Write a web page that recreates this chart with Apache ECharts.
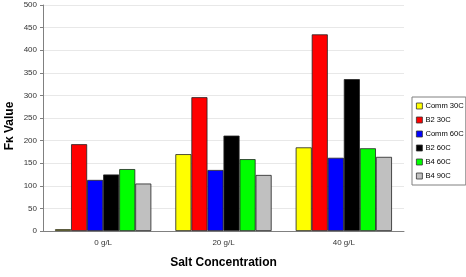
<!DOCTYPE html>
<html>
<head>
<meta charset="utf-8">
<script src="https://cdn.jsdelivr.net/npm/echarts@6/dist/echarts.min.js"></script>
<style>
  html, body { margin: 0; padding: 0; background: #fff; }
  #chart { width: 466px; height: 277px; }
</style>
</head>
<body>
<div id="chart"></div>
<script>
const categories = ['0 g/L', '20 g/L', '40 g/L']
const seriesNames = ['Comm 30C', 'B2 30C', 'Comm 60C', 'B2 60C', 'B4 60C', 'B4 90C']
const comm30 = [4, 170, 185]
const b2_30 = [192, 296, 435]
const comm60 = [113, 135, 162]
const b2_60 = [125, 211, 336]
const b4_60 = [137, 159, 183]
const b4_90 = [105, 124, 164]
const yTicks = [0, 500, 50]

const values = [comm30, b2_30, comm60, b2_60, b4_60, b4_90]
const colors = ['#FFFF00', '#FF0000', '#0000FF', '#000000', '#00FF00', '#C0C0C0']

const myChart = echarts.init(document.getElementById('chart'))

const option = {
  animation: false,
  color: colors,
  textStyle: { fontFamily: 'Liberation Sans, Arial, sans-serif' },
  grid: {
    left: 43,
    right: 62,
    top: 5,
    bottom: 46,
    outerBoundsMode: 'none'
  },
  legend: {
    orient: 'vertical',
    left: 412,
    top: 97,
    data: seriesNames,
    borderColor: '#808080',
    borderWidth: 1,
    padding: [4, 2, 4, 4],
    itemWidth: 6,
    itemHeight: 6,
    itemGap: 4,
    icon: 'rect',
    textStyle: {
      fontSize: 7.6,
      color: '#000',
      lineHeight: 10,
      padding: [0, 0, 0, -2]
    },
    itemStyle: {
      borderColor: '#333',
      borderWidth: 0.8
    }
  },
  xAxis: {
    type: 'category',
    data: categories,
    name: 'Salt Concentration',
    nameLocation: 'middle',
    nameGap: 26,
    nameTextStyle: { fontSize: 12, fontWeight: 'bold', color: '#000' },
    axisLine: { lineStyle: { color: '#808080' } },
    axisTick: { length: 3, lineStyle: { color: '#808080' } },
    axisLabel: { fontSize: 8, color: '#333', margin: 8 }
  },
  yAxis: {
    type: 'value',
    min: yTicks[0],
    max: yTicks[1],
    interval: yTicks[2],
    name: 'Fκ Value',
    nameLocation: 'middle',
    nameRotate: 90,
    nameGap: 27,
    nameMoveOverlap: false,
    nameTextStyle: { fontSize: 12, fontWeight: 'bold', color: '#000', padding: [0, 0, 0, -16] },
    axisLine: { show: true, lineStyle: { color: '#808080' } },
    axisTick: { show: true, length: 3, lineStyle: { color: '#808080' } },
    axisLabel: { fontSize: 8, color: '#333', margin: 6 },
    splitLine: { lineStyle: { color: '#e8e8e8' } }
  },
  series: seriesNames.map((name, i) => ({
    name,
    type: 'bar',
    data: values[i],
    barGap: '0%',
    barCategoryGap: '20%',
    itemStyle: { borderColor: '#222', borderWidth: 0.8 }
  }))
}
myChart.setOption(option)
</script>
</body>
</html>
